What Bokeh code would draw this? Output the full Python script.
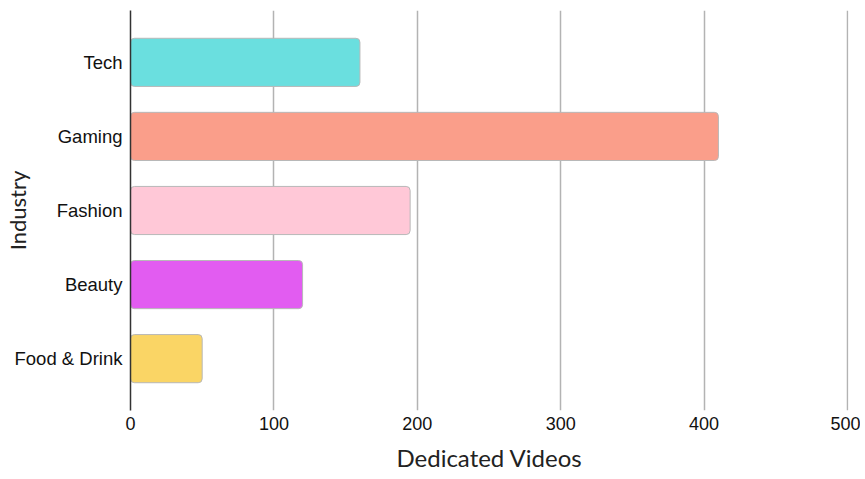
from bokeh.plotting import figure
from bokeh.models import ColumnDataSource, Range1d, FixedTicker
from bokeh.embed import file_html
from bokeh.resources import INLINE

industries = ["Tech", "Gaming", "Fashion", "Beauty", "Food & Drink"]
videos = [160, 410, 195, 120, 50]
colors = ["#6ADFDF", "#FA9E8A", "#FFC8D7", "#E25CF1", "#FAD565"]
x_ticks = [0, 100, 200, 300, 400, 500]
x_title = "Dedicated Videos"
y_title = "Industry"

n = len(industries)
ypos = [n - 1 - i for i in range(n)]  # first category on top
src = ColumnDataSource(dict(industry=industries, y=ypos, videos=videos, color=colors))

p = figure(
    width=860, height=477,
    y_range=Range1d(-0.7, n - 1 + 0.7),
    x_range=Range1d(0, 500.7),
    output_backend="svg", toolbar_location=None,
    min_border_left=130, min_border_top=10, min_border_bottom=67, min_border_right=12,
)
p.hbar(y="y", right="videos", left=0, height=0.65, source=src,
       fill_color="color", line_color="#b8b8b8", line_width=1, border_radius=4)

p.outline_line_color = None
p.ygrid.grid_line_color = None
p.xgrid.grid_line_color = "#b3b3b3"
p.xgrid.grid_line_width = 1.5
p.xgrid.ticker = x_ticks

p.xaxis.ticker = x_ticks
p.xaxis.axis_line_color = None
p.xaxis.major_tick_line_color = None
p.xaxis.minor_tick_line_color = None
p.xaxis.major_tick_out = 0
p.xaxis.major_label_standoff = 6
p.xaxis.major_label_text_font = "Liberation Sans"
p.xaxis.major_label_text_font_size = "18px"
p.xaxis.major_label_text_color = "#111111"
p.xaxis.axis_label = x_title
p.xaxis.axis_label_text_font = "Lato"
p.xaxis.axis_label_text_font_style = "normal"
p.xaxis.axis_label_text_font_size = "24px"
p.xaxis.axis_label_text_color = "#222222"
p.xaxis.axis_label_standoff = 10

p.yaxis.ticker = FixedTicker(ticks=ypos, minor_ticks=[])
p.yaxis.major_label_overrides = {y: name for y, name in zip(ypos, industries)}
p.yaxis.axis_line_color = "#333333"
p.yaxis.axis_line_width = 1.5
p.yaxis.major_tick_line_color = None
p.yaxis.minor_tick_line_color = None
p.yaxis.major_tick_out = 0
p.yaxis.major_label_standoff = 8
p.yaxis.major_label_text_font = "Liberation Sans"
p.yaxis.major_label_text_font_size = "18.5px"
p.yaxis.major_label_text_color = "#111111"
p.yaxis.axis_label = y_title
p.yaxis.axis_label_text_font = "Lato"
p.yaxis.axis_label_text_font_style = "normal"
p.yaxis.axis_label_text_font_size = "22px"
p.yaxis.axis_label_text_color = "#222222"
p.yaxis.axis_label_standoff = -19

open("out.html", "w").write(file_html(p, INLINE))
